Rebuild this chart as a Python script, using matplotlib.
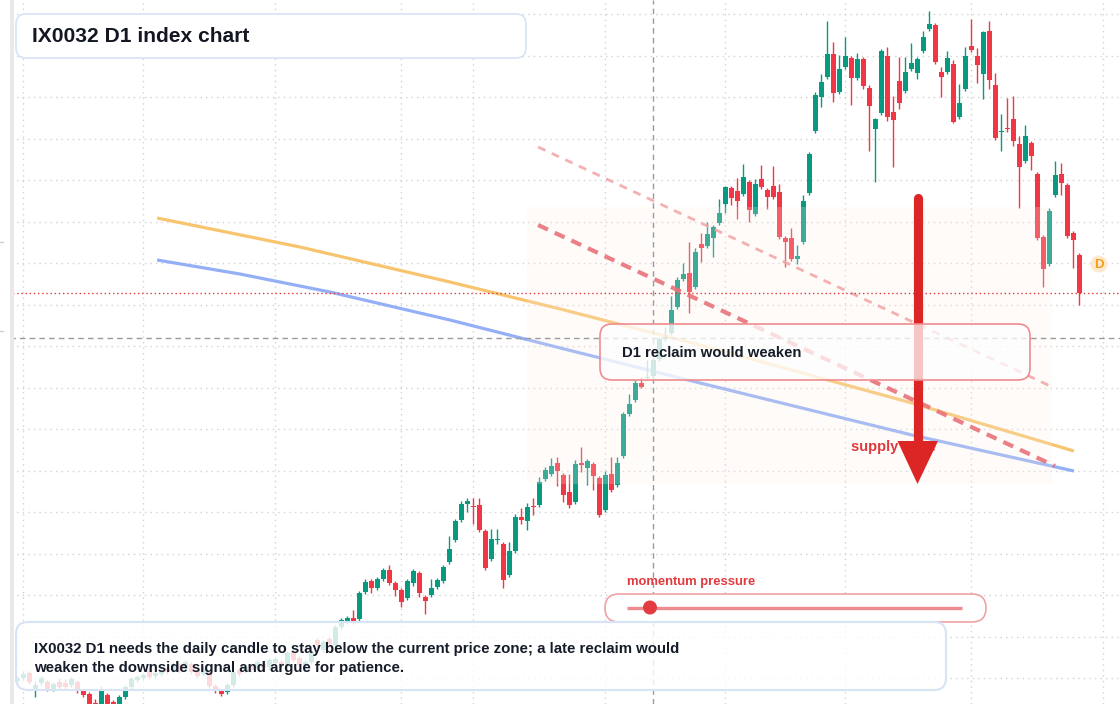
import numpy as np
import matplotlib
matplotlib.use("Agg")
import matplotlib.pyplot as plt
from matplotlib.patches import FancyBboxPatch, Rectangle, Circle, Polygon

plt.rcParams['font.family'] = ['Liberation Sans', 'DejaVu Sans']

# ---------------- data (index price units) ----------------
opens = [319, 322, 327, 309, 317, 318, 311, 318, 317, 315, 318, 309, 306, 297, 290, 305, 298, 292, 303, 313,
         320, 322, 330, 324, 326, 332, 330, 335, 332, 336, 330, 326, 328, 314, 309, 308, 315, 330, 329, 334,
         332, 336, 333, 337, 338, 333, 348, 342, 335, 338, 360, 350, 361, 355, 373, 378, 382, 381, 408, 419,
         412, 421, 430, 417, 410, 402, 417, 427, 403, 405, 413, 419, 438, 460, 480, 496, 494, 495, 469, 441,
         460, 456, 425, 449, 483, 479, 494, 495, 521, 526, 537, 525, 508, 498, 537, 532, 536, 522, 490, 526,
         515, 544, 586, 600, 617, 622, 624, 641, 661, 667, 693, 721, 727, 713, 756, 754, 762, 777, 796, 812,
         809, 806, 818, 786, 821, 810, 814, 808, 762, 762, 741, 758, 807, 869, 903, 923, 946, 908, 933, 942,
         922, 941, 912, 871, 887, 944, 888, 919, 909, 931, 927, 949, 971, 975, 928, 928, 936, 883, 911, 954,
         944, 926, 969, 915, 868, 872, 881, 856, 839, 857, 826, 763, 736, 805, 826, 815, 767, 745]
highs = [324, 329, 329, 319, 324, 320, 318, 322, 321, 323, 320, 311, 308, 301, 314, 307, 300, 305, 315, 323,
         325, 327, 332, 329, 332, 334, 338, 337, 340, 338, 332, 334, 330, 316, 311, 317, 330, 332, 335, 336,
         340, 338, 342, 343, 340, 349, 350, 344, 340, 350, 362, 360, 363, 375, 382, 384, 390, 409, 421, 421,
         423, 432, 435, 419, 412, 421, 431, 429, 405, 421, 422, 435, 464, 481, 499, 502, 502, 502, 471, 471,
         471, 458, 458, 486, 492, 497, 502, 523, 533, 542, 543, 527, 526, 540, 553, 541, 538, 524, 529, 543,
         543, 588, 606, 620, 623, 640, 642, 663, 673, 704, 723, 737, 758, 752, 767, 778, 775, 801, 814, 814,
         822, 836, 820, 821, 835, 812, 834, 816, 764, 772, 755, 805, 848, 908, 926, 979, 958, 945, 963, 944,
         947, 943, 915, 882, 951, 953, 904, 943, 943, 957, 943, 969, 989, 977, 933, 949, 940, 916, 953, 981,
         952, 969, 979, 927, 886, 902, 904, 864, 875, 859, 828, 765, 792, 839, 837, 817, 769, 747]
lows = [317, 320, 316, 303, 315, 309, 309, 311, 311, 313, 307, 303, 289, 292, 287, 288, 288, 289, 301, 311,
        318, 320, 321, 322, 324, 326, 328, 327, 330, 326, 322, 324, 312, 307, 304, 306, 313, 324, 327, 328,
        330, 330, 331, 335, 333, 331, 338, 333, 333, 336, 353, 348, 354, 353, 371, 376, 376, 379, 406, 407,
        410, 419, 415, 404, 393, 400, 414, 403, 386, 403, 411, 417, 436, 458, 478, 488, 476, 468, 430, 439,
        456, 412, 423, 447, 476, 470, 485, 493, 519, 524, 514, 498, 492, 496, 528, 515, 510, 483, 488, 508,
        513, 542, 584, 598, 612, 620, 622, 639, 659, 665, 691, 719, 687, 711, 738, 752, 743, 775, 787, 795,
        781, 804, 778, 784, 811, 791, 801, 761, 733, 739, 736, 756, 805, 867, 893, 921, 898, 906, 931, 895,
        920, 911, 849, 818, 885, 879, 833, 891, 907, 929, 921, 947, 969, 936, 903, 926, 877, 881, 909, 948,
        917, 901, 911, 860, 849, 868, 854, 792, 837, 830, 760, 713, 734, 803, 805, 762, 732, 695]
closes = [322, 326, 318, 315, 322, 311, 316, 313, 313, 321, 309, 305, 292, 295, 311, 291, 292, 303, 313, 321,
          323, 325, 323, 327, 330, 328, 336, 329, 338, 328, 324, 332, 314, 309, 306, 315, 328, 326, 333, 330,
          338, 332, 340, 341, 335, 347, 340, 335, 338, 348, 355, 358, 356, 373, 380, 382, 378, 407, 418, 412,
          421, 430, 417, 410, 398, 419, 429, 407, 399, 412, 420, 433, 451, 479, 496, 499, 493, 470, 432, 461,
          461, 420, 449, 483, 480, 493, 493, 518, 530, 534, 529, 505, 495, 536, 535, 539, 524, 485, 525, 510,
          537, 586, 596, 617, 613, 623, 640, 661, 663, 690, 720, 726, 708, 748, 752, 766, 773, 787, 813, 802,
          799, 823, 790, 816, 813, 803, 803, 763, 758, 741, 744, 799, 846, 905, 918, 946, 907, 931, 944, 922,
          941, 914, 894, 881, 949, 883, 880, 897, 928, 937, 941, 963, 976, 938, 923, 942, 878, 897, 944, 950,
          935, 968, 920, 862, 869, 871, 859, 833, 864, 844, 762, 731, 789, 825, 817, 764, 760, 707]

# month-boundary candle indices (vertical grid)
month_starts = [1, 21, 43, 64, 76, 98, 118, 138, 159, 181]

# annotation curves (candle index, price)
ma_slow_x = [23.3, 47.1, 72.1, 90.5, 113.8, 149.1, 176.1]
ma_slow_y = [782, 753, 718, 691, 655, 597, 549]
ma_fast_x = [23.3, 37.1, 52.1, 72.1, 90.5, 113.8, 149.1, 176.1]
ma_fast_y = [740, 726, 708, 680, 652, 617, 565, 529]
chan_upper = ([86.8, 172.5], [853, 613])
chan_lower = ([86.8, 172.95], [775, 534])
crosshair_i, crosshair_p = 106, 662

# ---------------- figure ----------------
W, H = 1120, 704
fig = plt.figure(figsize=(W / 100, H / 100), dpi=100)
ax = fig.add_axes([0, 0, 1, 1])
px2i = lambda p: (p - 17.3) / 6.0
ax.set_xlim(px2i(0), px2i(W))
ax.set_ylim(296, 1000)
for s in ax.spines.values():
    s.set_visible(False)
ax.set_xticks(month_starts)
ax.set_yticks([985.7 - 41.5 * k for k in range(17)])
ax.tick_params(length=0, labelbottom=False, labelleft=False)
ax.grid(True, color='#d2d2d2', linestyle=(0, (1, 3)), linewidth=1.0, zorder=0)
ax.set_axisbelow(True)

n = len(opens)
xs = np.arange(n)
o = np.array(opens, float); c = np.array(closes, float)
hi = np.array(highs, float); lo = np.array(lows, float)
up = c >= o
cols = np.where(up, '#089981', '#f23645')
ax.vlines(xs, lo, hi, colors=cols, linewidth=1.0, zorder=3)
bottom = np.minimum(o, c)
height = np.maximum(np.abs(c - o), 1.2)
ax.bar(xs, height, bottom=bottom, width=0.8, color=cols, linewidth=0, zorder=3.1)

# moving averages
ax.plot(ma_slow_x, ma_slow_y, color='#f8c46e', lw=2.3, zorder=2.5, solid_capstyle='butt')
ax.plot(ma_fast_x, ma_fast_y, color='#93aff5', lw=2.3, zorder=2.5, solid_capstyle='butt')

# supply zone
ax.add_patch(Rectangle((px2i(527), 516), (1052 - 527) / 6.0, 277,
                       facecolor='#fbeee6', alpha=0.22, edgecolor='none', zorder=3.5))

# channel lines
ax.plot(*chan_upper, color='#f3a3a5', lw=2.0, alpha=0.85, linestyle=(0, (2.9, 2.5)), zorder=4)
ax.plot(*chan_lower, color='#e8737a', lw=3.0, alpha=0.9, linestyle=(0, (2.6, 1.8)), zorder=4)

# crosshair & last price
ax.axvline(crosshair_i, color='#9b9b9b', lw=1.0, linestyle=(0, (4, 3)), zorder=4.2)
ax.axhline(crosshair_p, color='#9b9b9b', lw=1.0, linestyle=(0, (4, 3)), zorder=4.2)
ax.axhline(closes[-1], color='#e0393e', lw=1.0, linestyle=(0, (1, 2)), zorder=4.2)

# ---------------- overlay in pixel coordinates ----------------
ov = fig.add_axes([0, 0, 1, 1])
ov.set_xlim(0, W); ov.set_ylim(H, 0)
ov.axis('off')
ov.patch.set_alpha(0)

# left strip
ov.add_patch(Rectangle((0, 0), 10, H, facecolor='white', edgecolor='none', zorder=0.5))
ov.add_patch(Rectangle((10, 0), 4, H, facecolor='#e9e9e9', edgecolor='none', zorder=0.6))
for yy in (242, 331):
    ov.plot([0, 3], [yy, yy], color='#cfcfcf', lw=1, zorder=0.7)

# supply zone label + arrow
ov.text(851, 447, 'supply zone', fontsize=10.5, fontweight='bold', color='#e0393e',
        ha='left', va='center', zorder=1)
ov.plot([917.5, 917.5], [198, 445], color='#dc2626', lw=6.6, solid_capstyle='round', zorder=2)
ov.add_patch(Polygon([(897.5, 441), (938, 441), (917.5, 484)], closed=True,
                     facecolor='#dc2626', edgecolor='none', zorder=2))

# reclaim box
ov.add_patch(FancyBboxPatch((600, 324), 430, 56, boxstyle='round,pad=0,rounding_size=12',
                            facecolor=(1, 1, 1, 0.74), edgecolor='#ef8c8f', lw=1.2, zorder=3))
ov.text(622, 353, 'D1 reclaim would weaken', fontsize=10.75, fontweight='bold', color='#151b28',
        ha='left', va='center', zorder=3.1)

# D badge
ov.add_patch(Circle((1099, 264), 8.5, facecolor='#fde9cf', edgecolor='none', zorder=3))
ov.text(1099, 264.5, 'D', fontsize=9.5, fontweight='bold', color='#f39c1e', ha='center', va='center', zorder=3.1)

# title box
ov.add_patch(FancyBboxPatch((16, 14), 510, 44, boxstyle='round,pad=0,rounding_size=10',
                            facecolor='white', edgecolor='#d7e3f6', lw=1.2, zorder=3))
ov.text(32, 36.5, 'IX0032 D1 index chart', fontsize=15.1, fontweight='bold', color='#131722',
        ha='left', va='center', zorder=3.1)

# momentum widget
ov.text(627, 582.5, 'momentum pressure', fontsize=9.4, fontweight='bold', color='#e0393e',
        ha='left', va='center', zorder=3.1)
ov.add_patch(FancyBboxPatch((605, 594), 381, 28, boxstyle='round,pad=0,rounding_size=14',
                            facecolor='white', edgecolor='#f0a2a4', lw=1.2, zorder=3))
ov.plot([627, 962], [607.5, 607.5], color='#ee8b8e', lw=2.4, zorder=3.1, solid_capstyle='butt')
ov.add_patch(Circle((650, 607.5), 7, facecolor='#e23b40', edgecolor='none', zorder=3.2))

# bottom note
ov.add_patch(FancyBboxPatch((16, 622), 930, 68, boxstyle='round,pad=0,rounding_size=12',
                            facecolor=(1, 1, 1, 0.82), edgecolor='#d7e3f6', lw=1.5, zorder=3.3))
ov.text(34, 658.5, 'IX0032 D1 needs the daily candle to stay below the current price zone; a late reclaim would\n'
        'weaken the downside signal and argue for patience.',
        fontsize=10.8, fontweight='bold', color='#151b28', ha='left', va='center',
        linespacing=1.45, zorder=3.4)

fig.savefig('out.png', dpi=100)
